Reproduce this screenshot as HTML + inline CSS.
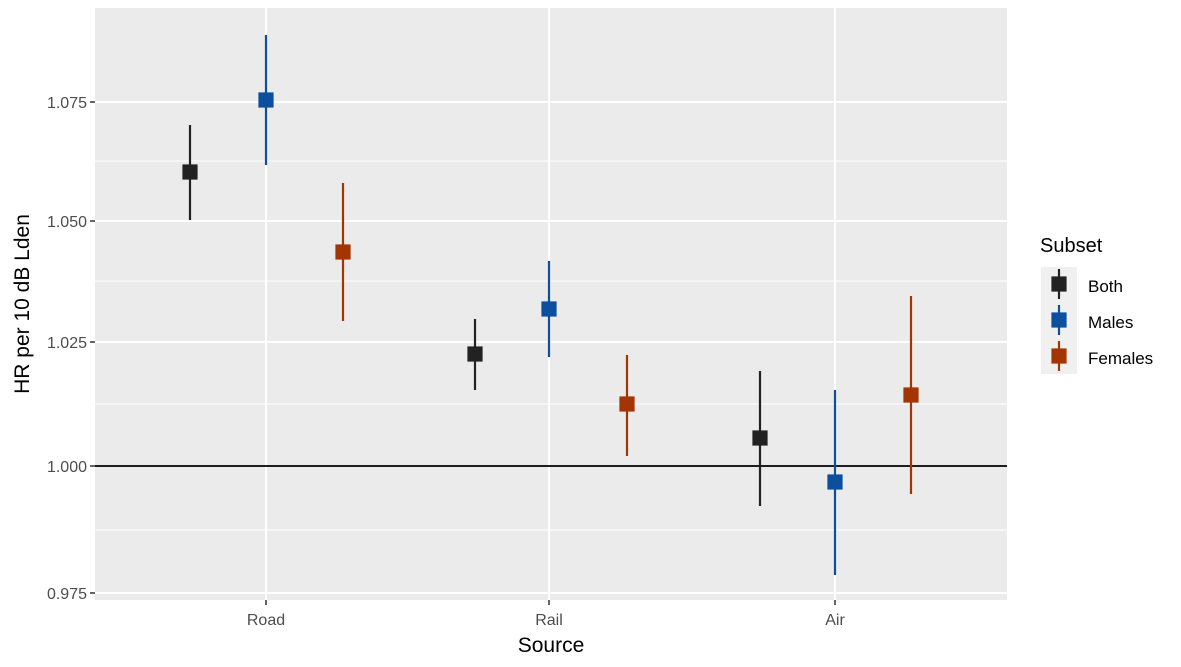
<!DOCTYPE html>
<html><head><style>body{margin:0;background:#fff}svg{display:block}</style></head><body>
<svg width="1181" height="667" xmlns="http://www.w3.org/2000/svg" font-family="Liberation Sans, sans-serif">
<rect x="95" y="8" width="912" height="592" fill="#ebebeb"/>
<g stroke="#fff" stroke-width="1">
<line x1="95" x2="1007" y1="161" y2="161"/><line x1="95" x2="1007" y1="281" y2="281"/>
<line x1="95" x2="1007" y1="404" y2="404"/><line x1="95" x2="1007" y1="530" y2="530"/>
</g>
<g stroke="#fff" stroke-width="2">
<line x1="95" x2="1007" y1="102" y2="102"/><line x1="95" x2="1007" y1="221" y2="221"/>
<line x1="95" x2="1007" y1="342" y2="342"/><line x1="95" x2="1007" y1="593" y2="593"/>
<line x1="266" x2="266" y1="8" y2="600"/><line x1="549" x2="549" y1="8" y2="600"/><line x1="835" x2="835" y1="8" y2="600"/>
</g>
<line x1="95" x2="1007" y1="466" y2="466" stroke="#000" stroke-width="1.8"/>
<g stroke="#333" stroke-width="1.5">
<line x1="90" x2="95" y1="102" y2="102"/><line x1="90" x2="95" y1="221" y2="221"/><line x1="90" x2="95" y1="342" y2="342"/><line x1="90" x2="95" y1="466" y2="466"/><line x1="90" x2="95" y1="593" y2="593"/>
<line x1="266" x2="266" y1="600" y2="605"/><line x1="549" x2="549" y1="600" y2="605"/><line x1="835" x2="835" y1="600" y2="605"/>
</g>
<g font-size="16" fill="#4d4d4d" text-anchor="end">
<text x="87" y="108">1.075</text><text x="87" y="227">1.050</text><text x="87" y="348">1.025</text><text x="87" y="472">1.000</text><text x="87" y="599">0.975</text>
</g>
<g font-size="16" fill="#4d4d4d" text-anchor="middle">
<text x="266" y="625">Road</text><text x="549" y="625">Rail</text><text x="835" y="625">Air</text>
</g>
<text x="551" y="652" font-size="21" text-anchor="middle">Source</text>
<text transform="translate(29,304) rotate(-90)" font-size="21" text-anchor="middle">HR per 10 dB Lden</text>
<g stroke-width="2.2">
<g stroke="#222" fill="#222">
<line x1="190" x2="190" y1="125" y2="220"/><rect x="183.5" y="165.5" width="13" height="13"/>
<line x1="475" x2="475" y1="319" y2="390"/><rect x="468.5" y="347.5" width="13" height="13"/>
<line x1="760" x2="760" y1="371" y2="506"/><rect x="753.5" y="431.5" width="13" height="13"/>
</g>
<g stroke="#0b4f9e" fill="#0b4f9e">
<line x1="266" x2="266" y1="35" y2="165"/><rect x="259.5" y="93.5" width="13" height="13"/>
<line x1="549" x2="549" y1="261" y2="357"/><rect x="542.5" y="302.5" width="13" height="13"/>
<line x1="835" x2="835" y1="390" y2="575"/><rect x="828.5" y="475.5" width="13" height="13"/>
</g>
<g stroke="#a33500" fill="#a33500">
<line x1="343" x2="343" y1="183" y2="321"/><rect x="336.5" y="245.5" width="13" height="13"/>
<line x1="627" x2="627" y1="355" y2="456"/><rect x="620.5" y="397.5" width="13" height="13"/>
<line x1="911" x2="911" y1="296" y2="494"/><rect x="904.5" y="388.5" width="13" height="13"/>
</g>
</g>
<text x="1040" y="252" font-size="20">Subset</text>
<rect x="1041" y="267" width="36" height="107" fill="#f0f0f0"/>
<g stroke-width="2.2">
<g stroke="#222" fill="#222"><line x1="1059" x2="1059" y1="269" y2="299"/><rect x="1052.5" y="277.5" width="13" height="13"/></g>
<g stroke="#0b4f9e" fill="#0b4f9e"><line x1="1059" x2="1059" y1="305" y2="335"/><rect x="1052.5" y="313.5" width="13" height="13"/></g>
<g stroke="#a33500" fill="#a33500"><line x1="1059" x2="1059" y1="341" y2="371"/><rect x="1052.5" y="349.5" width="13" height="13"/></g>
</g>
<g font-size="17"><text x="1088" y="292">Both</text><text x="1088" y="328">Males</text><text x="1088" y="364">Females</text></g>
</svg>
</body></html>
